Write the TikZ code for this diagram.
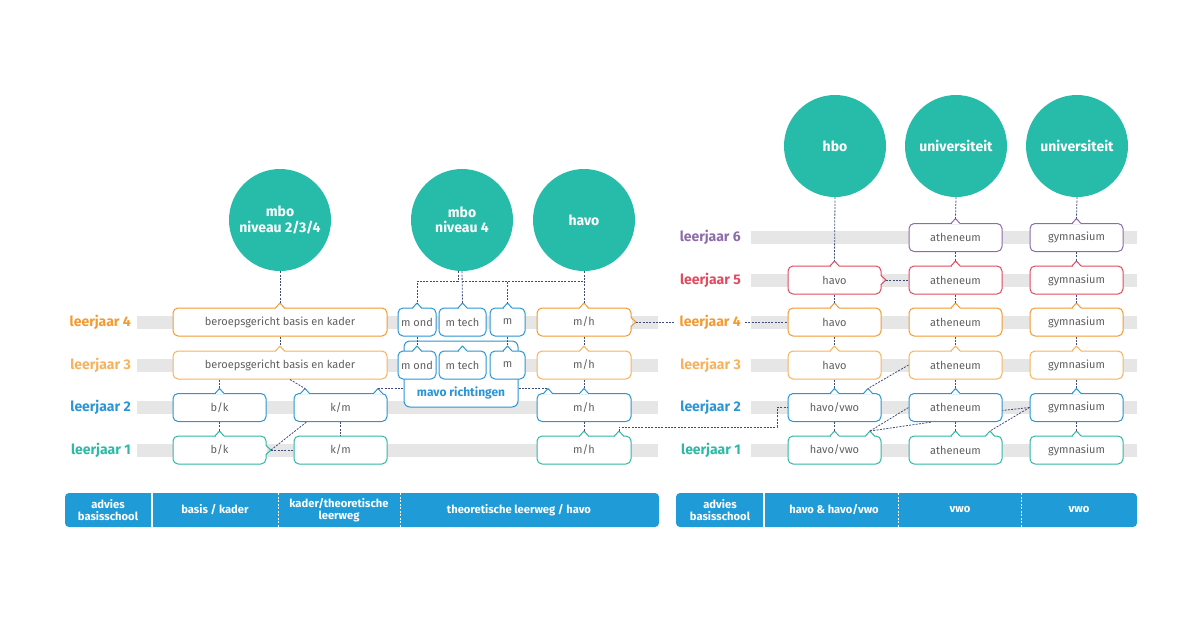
\documentclass[tikz,border=0pt]{standalone}
\usepackage{fontspec}
\setmainfont{Fira Sans}
\usetikzlibrary{calc}
\definecolor{cteal}{HTML}{27BBA9}
\definecolor{cone}{HTML}{2FB8A4}
\definecolor{ctwo}{HTML}{2C96D4}
\definecolor{cthree}{HTML}{F6B25E}
\definecolor{cfour}{HTML}{F39A30}
\definecolor{cfive}{HTML}{E24A5F}
\definecolor{csix}{HTML}{8E6BAA}
\definecolor{cbar}{HTML}{1F9BD7}
\definecolor{cgrey}{HTML}{E6E6E6}
\definecolor{cnav}{HTML}{3E4C7C}
\definecolor{ctext}{HTML}{606060}
\newcommand\tnotch[4]{%
  \fill[white] (#2-4,#3-0.9) rectangle (#2+4,#3+0.9);
  \draw[#4, line width=1pt, line join=round] (#2-4.5,#3) -- (#2,#3-5) -- (#2+4.5,#3);
  \coordinate (#1) at (#2,#3-5);}
\newcommand\rnotch[4]{%
  \fill[white] (#2-0.9,#3-4) rectangle (#2+0.9,#3+4);
  \draw[#4, line width=1pt, line join=round] (#2,#3-4.5) -- (#2+5,#3) -- (#2,#3+4.5);
  \coordinate (#1) at (#2+5,#3);}
\begin{document}
\begin{tikzpicture}[x=1pt,y=-1pt,
  bx/.style={draw=#1, fill=white, rounded corners=5pt, line width=1pt, minimum height=28pt, inner sep=0pt, text=ctext, font=\fontsize{11}{12}\selectfont},
  conn/.style={draw=cnav, line width=0.8pt, dash pattern=on 2pt off 1.3pt},
  lbl/.style={text=#1, font=\fontsize{14}{16}\selectfont\bfseries, inner sep=4pt},
  circ/.style={circle, fill=cteal, minimum size=102pt, inner sep=0pt, text=white, align=center, font=\fontsize{14}{15.5}\selectfont\bfseries},
  bartxt/.style={text=white, align=center, font=\fontsize{11.2}{12}\selectfont\bfseries},
  greybar/.style={fill=cgrey}]
\useasboundingbox (0,0) rectangle (1200,630);

% grey bars
\foreach \y in {322,365,407.5,450} \fill[greybar] (137,\y-6.5) rectangle (658,\y+6.5);
\foreach \y in {237.5,280,322,365,407.5,450} \fill[greybar] (751,\y-6.5) rectangle (1137,\y+6.5);

% labels left
\node[lbl=cfour, anchor=east] (l4) at (135,322) {leerjaar 4};
\node[lbl=cthree, anchor=east] (l3) at (135,365) {leerjaar 3};
\node[lbl=ctwo, anchor=east] (l2) at (135,407.5) {leerjaar 2};
\node[lbl=cone, anchor=east] (l1) at (135,450) {leerjaar 1};
% labels right
\node[lbl=csix, anchor=east] (r6) at (745,237.5) {leerjaar 6};
\node[lbl=cfive, anchor=east] (r5) at (745,280) {leerjaar 5};
\node[lbl=cfour, anchor=east] (r4) at (745,322) {leerjaar 4};
\node[lbl=cthree, anchor=east] (r3) at (745,365) {leerjaar 3};
\node[lbl=ctwo, anchor=east] (r2) at (745,407.5) {leerjaar 2};
\node[lbl=cone, anchor=east] (r1) at (745,450) {leerjaar 1};

% circles
\node[circ] (cmboA) at (280,220) {mbo\\niveau 2/3/4};
\node[circ] (cmboB) at (462,220) {mbo\\niveau 4};
\node[circ] (chavo) at (584,220) {havo};
\node[circ] (chbo) at (835,146) {hbo};
\node[circ] (cuniA) at (956,146) {universiteit};
\node[circ] (cuniB) at (1077,146) {universiteit};

% left boxes
\node[bx=cfour, minimum width=214pt] (ber4) at (280,322) {beroepsgericht basis en kader};
\node[bx=cthree, minimum width=214pt] (ber3) at (280,365) {beroepsgericht basis en kader};
\node[bx=ctwo, minimum width=93pt] (bk2) at (219.5,407.5) {b/k};
\node[bx=ctwo, minimum width=93pt] (km2) at (340.5,407.5) {k/m};
\node[bx=cone, minimum width=93pt] (bk1) at (219.5,450) {b/k};
\node[bx=cone, minimum width=93pt] (km1) at (340.5,450) {k/m};
% mavo
\node[bx=ctwo, minimum width=38pt] (mond4) at (417,322) {m ond};
\node[bx=ctwo, minimum width=47pt] (mtech4) at (462.5,322) {m tech};
\node[bx=ctwo, minimum width=35pt] (mm4) at (507.5,322) {m};
\node[draw=ctwo, fill=white, rounded corners=6pt, line width=1pt, minimum width=114pt, minimum height=66pt, inner sep=0pt] (mavo) at (461,374) {};
\node[text=ctwo, font=\fontsize{12}{13}\selectfont\bfseries] (mavolbl) at (461,393) {mavo richtingen};
\node[bx=ctwo, minimum width=38pt] (mond3) at (417,365) {m ond};
\node[bx=ctwo, minimum width=47pt] (mtech3) at (462.5,365) {m tech};
\node[bx=ctwo, minimum width=35pt] (mm3) at (507.5,365) {m};
% m/h
\node[bx=cfour, minimum width=94pt] (mh4) at (584,322) {m/h};
\node[bx=cthree, minimum width=94pt] (mh3) at (584,365) {m/h};
\node[bx=ctwo, minimum width=94pt] (mh2) at (584,407.5) {m/h};
\node[bx=cone, minimum width=94pt] (mh1) at (584,450) {m/h};

% right boxes
\node[bx=cfive, minimum width=93pt] (hv5) at (834.5,280) {havo};
\node[bx=cfour, minimum width=93pt] (hv4) at (834.5,322) {havo};
\node[bx=cthree, minimum width=93pt] (hv3) at (834.5,365) {havo};
\node[bx=ctwo, minimum width=93pt] (hv2) at (834.5,407.5) {havo/vwo};
\node[bx=cone, minimum width=93pt] (hv1) at (834.5,450) {havo/vwo};
\foreach \n/\y/\c in {6/237.5/csix,5/280/cfive,4/322/cfour,3/365/cthree,2/407.5/ctwo,1/450/cone} {
  \node[bx=\c, minimum width=93pt] (at\n) at (955.5,\y) {atheneum};
  \node[bx=\c, minimum width=93pt] (gy\n) at (1076.5,\y) {gymnasium};
  \tnotch{nat\n}{955.5}{\y-14}{\c}
  \tnotch{ngy\n}{1076.5}{\y-14}{\c}
}

% notches
\tnotch{nber4}{280}{308}{cfour}
\tnotch{nber3}{280}{351}{cthree}
\tnotch{nbk2}{219.5}{393.5}{ctwo}
\tnotch{nkm2a}{305}{393.5}{ctwo}
\tnotch{nkm2b}{378}{393.5}{ctwo}
\tnotch{nbk1}{219.5}{436}{cone}
\rnotch{rbk1}{266}{450}{cone}
\tnotch{nmond4}{417}{308}{ctwo}
\tnotch{nmtech4}{462.5}{308}{ctwo}
\tnotch{nmm4}{507.5}{308}{ctwo}
\tnotch{nmond3}{417}{351}{ctwo}
\tnotch{nmtech3}{462.5}{351}{ctwo}
\tnotch{nmm3}{507.5}{351}{ctwo}
\tnotch{nmh4}{584}{308}{cfour}
\rnotch{rmh4}{631}{322}{cfour}
\tnotch{nmh3}{584}{351}{cthree}
\tnotch{nmh2}{584}{393.5}{ctwo}
\tnotch{nmh2a}{548}{393.5}{ctwo}
\tnotch{nmh1}{584}{436}{cone}
\tnotch{nmh1b}{619}{436}{cone}
\tnotch{nhv5}{834.5}{266}{cfive}
\rnotch{rhv5}{881}{280}{cfive}
\tnotch{nhv4}{834.5}{308}{cfour}
\tnotch{nhv3}{834.5}{351}{cthree}
\tnotch{nhv2}{834.5}{393.5}{ctwo}
\tnotch{nhv2b}{868}{393.5}{ctwo}
\tnotch{nhv1}{834.5}{436}{cone}
\tnotch{nhv1b}{870}{436}{cone}
\tnotch{nat1b}{990}{436}{cone}

% connectors left
\draw[conn] (cmboA.south) -- (nber4);
\draw[conn] (ber4.south) -- (nber3);
\draw[conn] (nbk2 |- ber3.south) -- (nbk2);
\draw[conn] ([xshift=10pt]ber3.south) -- (nkm2a);
\draw[conn] (nkm2b) -- (nkm2b -| mavo.west);
\draw[conn] (nmh2a -| mavo.east) -- (nmh2a);
\draw[conn] (bk2.south) -- (nbk1);
\draw[conn] (rbk1) -- (km1.west);
\draw[conn] (rbk1) -- ([xshift=-34pt]km2.south);
\draw[conn] (km2.south) -- (km1.north);
% mavo / havo bus
\draw[conn] ([xshift=-4pt]cmboB.south) -- ++(0,10) -| (nmond4);
\draw[conn] (cmboB.south) -- (nmtech4);
\draw[conn] ([yshift=-10pt]cmboB.south) -| (nmm4);
\draw[conn] ([yshift=-10pt]cmboB.south) -- ([yshift=-10pt]chavo.south);
\draw[conn] (chavo.south) -- (nmh4);
\draw[conn] (mond4.south) -- (nmond3);
\draw[conn] (mm4.south) -- (nmm3);
\draw[conn] (mh4.south) -- (nmh3);
\draw[conn] (mh3.south) -- (nmh2);
\draw[conn] (mh2.south) -- (nmh1);
\coordinate (jog) at (777,427);
\draw[conn] (nmh1b) |- (jog) |- (hv2.west);
\draw[conn] (rmh4) -- (r4.west);
\draw[conn] (r4.east) -- (hv4.west);

% connectors right
\draw[conn] (chbo.south) -- (nhv5);
\draw[conn] (cuniA.south) -- (nat6);
\draw[conn] (cuniB.south) -- (ngy6);
\foreach \a/\b in {6/5,5/4,4/3,3/2,2/1} {
  \draw[conn] (at\a.south) -- (nat\b);
  \draw[conn] (gy\a.south) -- (ngy\b);
}
\foreach \a/\b in {5/4,4/3,3/2,2/1} \draw[conn] (hv\a.south) -- (nhv\b);
\draw[conn] (rhv5) -- (at5.west);
\draw[conn] (at3.west) -- (nhv2b);
\draw[conn] (nhv1b) -- (at2.west);
\draw[conn] (nhv1b) -- ([xshift=-23.5pt]at2.south);
\draw[conn] (gy2.west) -- ([yshift=-3pt]at2.east);
\draw[conn] (gy2.west) -- (nat1b);

% bottom bars
\fill[cbar, rounded corners=4pt] (65,493) rectangle (659,527);
\draw[white, line width=2pt] (151.5,493) -- (151.5,527);
\draw[white, line width=0.6pt, dash pattern=on 2pt off 1.5pt] (278,493) -- (278,527);
\draw[white, line width=0.6pt, dash pattern=on 2pt off 1.5pt] (400,493) -- (400,527);
\node[bartxt] (bA) at (108,510) {advies\\basisschool};
\node[bartxt] (bB) at (215,510) {basis / kader};
\node[bartxt] (bC) at (339,510) {kader/theoretische\\leerweg};
\node[bartxt] (bD) at (519,510) {theoretische leerweg / havo};
\fill[cbar, rounded corners=4pt] (676,493) rectangle (1137,527);
\draw[white, line width=2pt] (764,493) -- (764,527);
\draw[white, line width=0.6pt, dash pattern=on 2pt off 1.5pt] (898,493) -- (898,527);
\draw[white, line width=0.6pt, dash pattern=on 2pt off 1.5pt] (1021,493) -- (1021,527);
\node[bartxt] (bE) at (720,510) {advies\\basisschool};
\node[bartxt] (bF) at (834,510) {havo \& havo/vwo};
\node[bartxt] (bG) at (960,510) {vwo};
\node[bartxt] (bH) at (1079,510) {vwo};
\end{tikzpicture}
\end{document}
